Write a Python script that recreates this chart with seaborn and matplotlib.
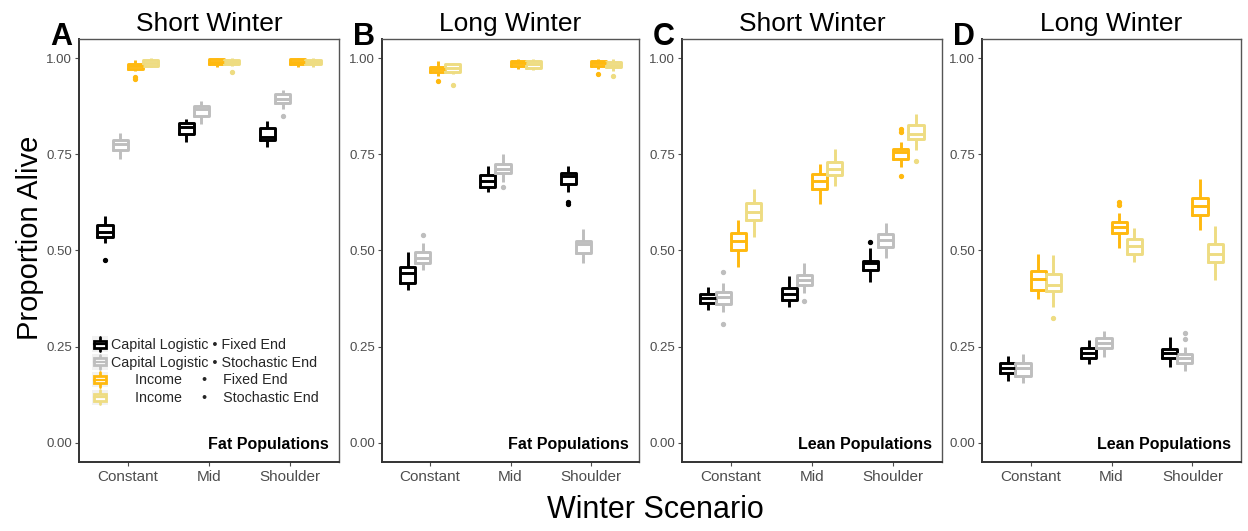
import numpy as np
import pandas as pd
import matplotlib
matplotlib.use("Agg")
import matplotlib.pyplot as plt
from matplotlib.patches import Rectangle
from matplotlib.lines import Line2D
from matplotlib.legend_handler import HandlerBase
import seaborn as sns

sns.set_theme(style="white")
plt.rcParams['font.family'] = ['Liberation Sans', 'DejaVu Sans']

scenarios = ["Constant", "Mid", "Shoulder"]
groups = ["Capital Logistic \u2022 Fixed End", "Capital Logistic \u2022 Stochastic End",
          "Income \u2022 Fixed End", "Income \u2022 Stochastic End"]
legend_labels = ["Capital Logistic \u2022 Fixed End",
                 "Capital Logistic \u2022 Stochastic End",
                 "      Income     \u2022    Fixed End",
                 "      Income     \u2022    Stochastic End"]
colors = ["#000000", "#BEBEBE", "#FFB90F", "#EEDC82"]
titles = ["Short Winter", "Long Winter", "Short Winter", "Long Winter"]
letters = ["A", "B", "C", "D"]
pop_labels = ["Fat Populations", "Fat Populations", "Lean Populations", "Lean Populations"]
yticks = [0.00, 0.25, 0.50, 0.75, 1.00]

# Box statistics: rows = scenario (Constant, Mid, Shoulder), columns = group
A_lo  = [[0.520, 0.738, 0.966, 0.978], [0.783, 0.829, 0.976, 0.979], [0.768, 0.869, 0.978, 0.978]]
A_q1  = [[0.535, 0.761, 0.973, 0.980], [0.802, 0.849, 0.986, 0.984], [0.787, 0.884, 0.984, 0.984]]
A_med = [[0.547, 0.777, 0.980, 0.988], [0.822, 0.867, 0.991, 0.990], [0.796, 0.895, 0.990, 0.990]]
A_q3  = [[0.566, 0.787, 0.986, 0.995], [0.832, 0.876, 0.997, 0.996], [0.819, 0.906, 0.997, 0.996]]
A_hi  = [[0.590, 0.805, 0.996, 1.000], [0.843, 0.888, 1.000, 1.000], [0.836, 0.917, 1.000, 1.000]]
A_out = [(0, 0, 0.475), (0, 2, 0.952), (0, 2, 0.945), (1, 3, 0.965), (2, 1, 0.850)]

B_lo  = [[0.397, 0.448, 0.955, 0.960], [0.653, 0.679, 0.973, 0.969], [0.653, 0.467, 0.973, 0.967]]
B_q1  = [[0.416, 0.467, 0.964, 0.964], [0.666, 0.702, 0.979, 0.975], [0.673, 0.494, 0.980, 0.977]]
B_med = [[0.441, 0.480, 0.971, 0.975], [0.681, 0.713, 0.987, 0.986], [0.694, 0.516, 0.987, 0.983]]
B_q3  = [[0.458, 0.495, 0.977, 0.984], [0.696, 0.726, 0.993, 0.993], [0.702, 0.525, 0.993, 0.990]]
B_hi  = [[0.495, 0.519, 0.993, 0.988], [0.720, 0.752, 0.999, 0.999], [0.720, 0.555, 0.999, 0.999]]
B_out = [(0, 1, 0.540), (0, 2, 0.942), (0, 3, 0.930), (1, 1, 0.664),
         (2, 0, 0.627), (2, 0, 0.620), (2, 2, 0.958), (2, 3, 0.955)]

C_lo  = [[0.345, 0.339, 0.458, 0.534], [0.354, 0.389, 0.621, 0.668], [0.419, 0.481, 0.718, 0.761]]
C_q1  = [[0.363, 0.361, 0.501, 0.579], [0.371, 0.409, 0.660, 0.696], [0.448, 0.510, 0.738, 0.790]]
C_med = [[0.376, 0.378, 0.525, 0.601], [0.387, 0.423, 0.681, 0.713], [0.467, 0.527, 0.755, 0.804]]
C_q3  = [[0.387, 0.393, 0.546, 0.624], [0.402, 0.435, 0.699, 0.729], [0.473, 0.542, 0.765, 0.826]]
C_hi  = [[0.406, 0.415, 0.579, 0.660], [0.434, 0.451, 0.726, 0.763], [0.506, 0.572, 0.783, 0.855]]
C_out = [(0, 1, 0.443), (0, 1, 0.310), (1, 1, 0.468), (1, 1, 0.368), (2, 0, 0.523),
         (2, 2, 0.815), (2, 2, 0.808), (2, 2, 0.695), (2, 3, 0.733)]

D_lo  = [[0.160, 0.155, 0.374, 0.352], [0.204, 0.224, 0.507, 0.470], [0.198, 0.187, 0.553, 0.424]]
D_q1  = [[0.181, 0.174, 0.398, 0.394], [0.220, 0.247, 0.546, 0.492], [0.220, 0.207, 0.592, 0.470]]
D_med = [[0.194, 0.194, 0.427, 0.410], [0.234, 0.259, 0.561, 0.511], [0.234, 0.220, 0.615, 0.491]]
D_q3  = [[0.207, 0.207, 0.446, 0.439], [0.247, 0.273, 0.574, 0.530], [0.244, 0.231, 0.637, 0.517]]
D_hi  = [[0.226, 0.230, 0.492, 0.488], [0.267, 0.291, 0.598, 0.559], [0.276, 0.250, 0.685, 0.563]]
D_out = [(0, 3, 0.325), (1, 2, 0.618), (1, 2, 0.626), (2, 1, 0.270), (2, 1, 0.285)]

panels = [
    (A_lo, A_q1, A_med, A_q3, A_hi, A_out),
    (B_lo, B_q1, B_med, B_q3, B_hi, B_out),
    (C_lo, C_q1, C_med, C_q3, C_hi, C_out),
    (D_lo, D_q1, D_med, D_q3, D_hi, D_out),
]


def build_frame(lo, q1, med, q3, hi, out):
    """Build a sample whose quartiles/whiskers reproduce the box statistics."""
    rows = []
    for si, sc in enumerate(scenarios):
        for gi, g in enumerate(groups):
            vals = ([lo[si][gi]] + [q1[si][gi]] * 20 + [med[si][gi]] * 20 +
                    [q3[si][gi]] * 20 + [hi[si][gi]])
            vals += [v for (s, gg, v) in out if s == si and gg == gi]
            rows += [(sc, g, v) for v in vals]
    return pd.DataFrame(rows, columns=["scenario", "group", "value"])


class BoxGlyph(HandlerBase):
    """Small boxplot-like legend key."""
    def create_artists(self, legend, orig_handle, xdescent, ydescent, width, height,
                       fontsize, trans):
        c = orig_handle.get_edgecolor()
        bg = Rectangle((-xdescent, -ydescent - 0.15 * height), width, height * 1.3,
                       facecolor="#F2F2F2", edgecolor="none", transform=trans)
        cx = -xdescent + width / 2
        box = Rectangle((-xdescent + 0.12 * width, -ydescent + 0.2 * height),
                        width * 0.76, height * 0.6, facecolor="white", edgecolor=c,
                        linewidth=2.0, transform=trans)
        med = Line2D([-xdescent + 0.12 * width, -xdescent + 0.88 * width],
                     [-ydescent + 0.5 * height] * 2, color=c, linewidth=1.6,
                     transform=trans)
        w1 = Line2D([cx, cx], [-ydescent - 0.1 * height, -ydescent + 0.2 * height],
                    color=c, linewidth=2.0, transform=trans)
        w2 = Line2D([cx, cx], [-ydescent + 0.8 * height, -ydescent + 1.1 * height],
                    color=c, linewidth=2.0, transform=trans)
        return [bg, w1, w2, box, med]


W, H = 1248, 531
fig = plt.figure(figsize=(W / 100, H / 100), dpi=100)
fig.patch.set_facecolor("white")

frames_px = [(79, 339), (382, 639), (682, 942), (982, 1241)]
top_px, bot_px = 39, 462

for i, (stats, (l, r)) in enumerate(zip(panels, frames_px)):
    ax = fig.add_axes([l / W, (H - bot_px) / H, (r - l) / W, (bot_px - top_px) / H])
    df = build_frame(*stats)
    sns.boxplot(data=df, x="scenario", y="value", hue="group", order=scenarios,
                hue_order=groups, palette=colors, fill=False, width=0.75, gap=0,
                linewidth=2.1, fliersize=2.8, showcaps=False, legend=False, ax=ax,
                flierprops={"marker": "o"})
    for ln in ax.lines:
        if ln.get_marker() not in (None, "None", "", " "):
            ln.set_markerfacecolor(ln.get_markeredgecolor())
    ax.set_xlim(-0.6, 2.6)
    ax.set_ylim(-0.05, 1.05)
    ax.set_yticks(yticks)
    ax.set_yticklabels([f"{v:.2f}" for v in yticks])
    ax.set_xlabel("")
    ax.set_ylabel("")
    ax.set_title(titles[i], fontsize=19, pad=6, color="black")
    ax.tick_params(axis="x", labelsize=11, colors="#4D4D4D", length=3, width=0.8, pad=3, bottom=True)
    ax.tick_params(axis="y", labelsize=9.5, colors="#4D4D4D", length=3, width=0.8, pad=2, left=True)
    for side, sp in ax.spines.items():
        sp.set_visible(True)
        sp.set_color("#555555")
        sp.set_linewidth(1.0)
    ax.spines["bottom"].set_color("#333333")
    ax.spines["left"].set_color("#333333")
    ax.spines["bottom"].set_linewidth(1.4)
    ax.spines["left"].set_linewidth(1.4)
    ax.text(0.96, 0.03, pop_labels[i], transform=ax.transAxes, ha="right",
            va="baseline", fontsize=11.5, fontweight="bold", color="black")
    fig.text((l - 7) / W, (H - 45) / H, letters[i], ha="right", va="baseline",
             fontsize=22, fontweight="bold", color="black")
    if i == 0:
        handles = [Rectangle((0, 0), 1, 1, facecolor="white", edgecolor=c, linewidth=2.0)
                   for c in colors]
        ax.legend(handles, legend_labels, loc="upper left",
                  bbox_to_anchor=((92 - l) / (r - l), (bot_px - 338) / (bot_px - top_px)),
                  frameon=False, fontsize=10.3, handlelength=1.1, handleheight=0.9,
                  handletextpad=0.2, labelspacing=0.26, borderpad=0, borderaxespad=0,
                  handler_map={Rectangle: BoxGlyph()})

fig.text(30 / W, (H - 238) / H, "Proportion Alive", rotation=90, ha="center",
         va="center", fontsize=21, color="black")
fig.text(655 / W, (H - 510) / H, "Winter Scenario", ha="center", va="center",
         fontsize=22, color="black")

fig.savefig("out.png", dpi=100, facecolor="white")
